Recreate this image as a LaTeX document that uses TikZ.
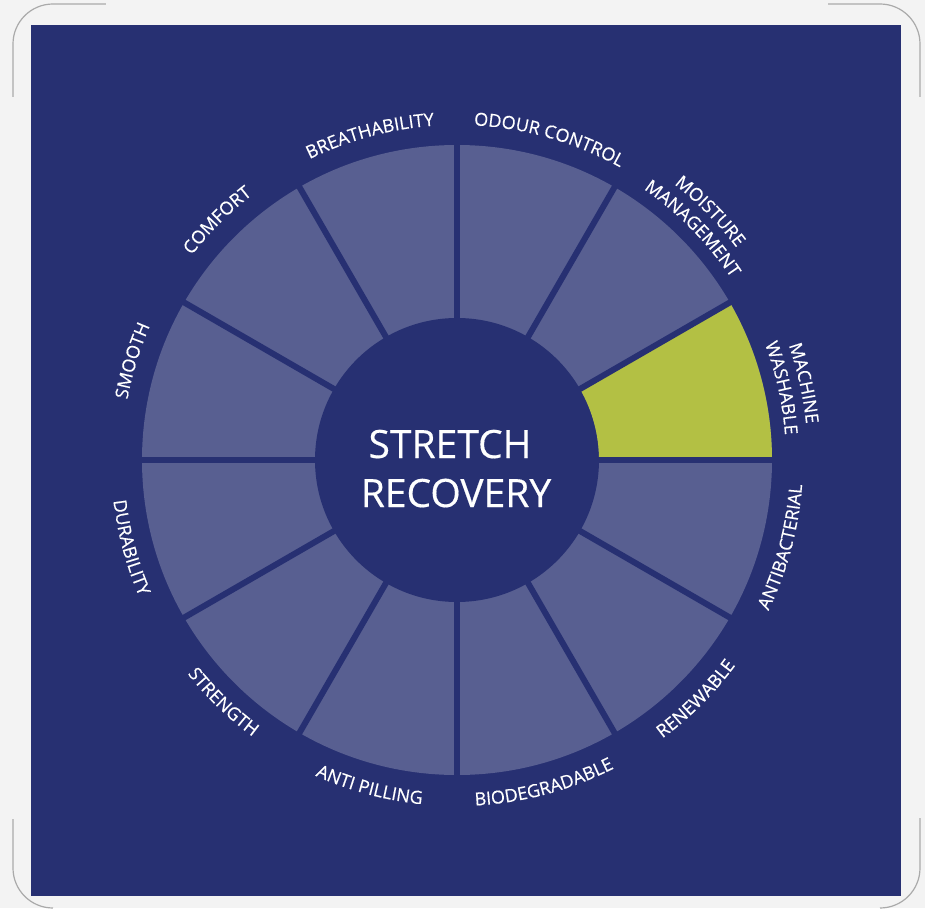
\documentclass[tikz,border=0pt]{standalone}
\usepackage{fontspec}
\setmainfont{Open Sans}[FakeBold=0.35]
\usetikzlibrary{decorations.text}
\definecolor{navy}{RGB}{39,48,114}
\definecolor{seg}{RGB}{88,95,145}
\definecolor{lime}{RGB}{179,192,68}
\definecolor{paper}{RGB}{243,243,243}
\definecolor{framegray}{RGB}{170,170,170}
\newcommand\lblfont{\fontsize{18}{18}\selectfont}
\newcommand\uplabel[3]{%
  \path[decorate,decoration={text along path,text align=center,
    text={|\lblfont\color{white}|#3}}]
    (#1+40:#2pt) arc[start angle=#1+40,end angle=#1-40,radius=#2pt];}
\newcommand\lowlabel[3]{%
  \path[decorate,decoration={text along path,text align=center,
    text={|\lblfont\color{white}|#3}}]
    (#1-40:#2pt) arc[start angle=#1-40,end angle=#1+40,radius=#2pt];}
\tikzset{
  framecorner/.style={draw=framegray,line width=1.2pt},
  sepline/.style={draw=navy,line width=6pt},
  centertext/.style={text=white,anchor=base,inner sep=0pt,font=\fontsize{39}{39}\selectfont},
}
\begin{document}
\begin{tikzpicture}[x=1pt,y=1pt]
\useasboundingbox (-457,-448) rectangle (468,460);
\fill[paper] (-457,-448) rectangle (468,460);
% frame corners
\draw[framecorner] (-444,363) -- (-444,416) arc[start angle=180,end angle=90,radius=40] -- (-351,456);
\draw[framecorner] (371,456) -- (423,456) arc[start angle=90,end angle=0,radius=40] -- (463,363);
\draw[framecorner] (-444,-359) -- (-444,-408) arc[start angle=180,end angle=270,radius=40];
\draw[framecorner] (463,-358) -- (463,-408) arc[start angle=0,end angle=-90,radius=40];
% navy panel
\fill[navy] (-426,-436) rectangle (444,435);
% wheel
\fill[seg] (0,0) circle[radius=315pt];
\fill[navy] (0,0) circle[radius=142pt];
\fill[lime] (0:142pt) -- (0:315pt) arc[start angle=0,end angle=30,radius=315pt]
  -- (30:142pt) arc[start angle=30,end angle=0,radius=142pt] -- cycle;
\foreach \a in {0,30,...,150} \draw[sepline] (\a:320pt) -- (\a+180:320pt);
% centre text
\node[centertext] (s1) at (-7,2) {STRETCH};
\node[centertext] (s2) at (-1,-47) {RECOVERY};
% labels
\uplabel{12.5}{351}{MACHINE}
\uplabel{12.5}{329}{WASHABLE}
\uplabel{44.5}{351}{MOISTURE}
\uplabel{44.5}{329}{MANAGEMENT}
\uplabel{74}{335}{ODOUR CONTROL}
\uplabel{105}{335}{BREATHABILITY}
\uplabel{135}{335}{COMFORT}
\uplabel{163}{335}{SMOOTH}
\lowlabel{195}{346}{DURABILITY}
\lowlabel{226}{344}{STRENGTH}
\lowlabel{255}{346}{ANTI PILLING}
\lowlabel{285}{346}{BIODEGRADABLE}
\lowlabel{315}{346}{RENEWABLE}
\lowlabel{345}{346}{ANTIBACTERIAL}
\end{tikzpicture}
\end{document}
